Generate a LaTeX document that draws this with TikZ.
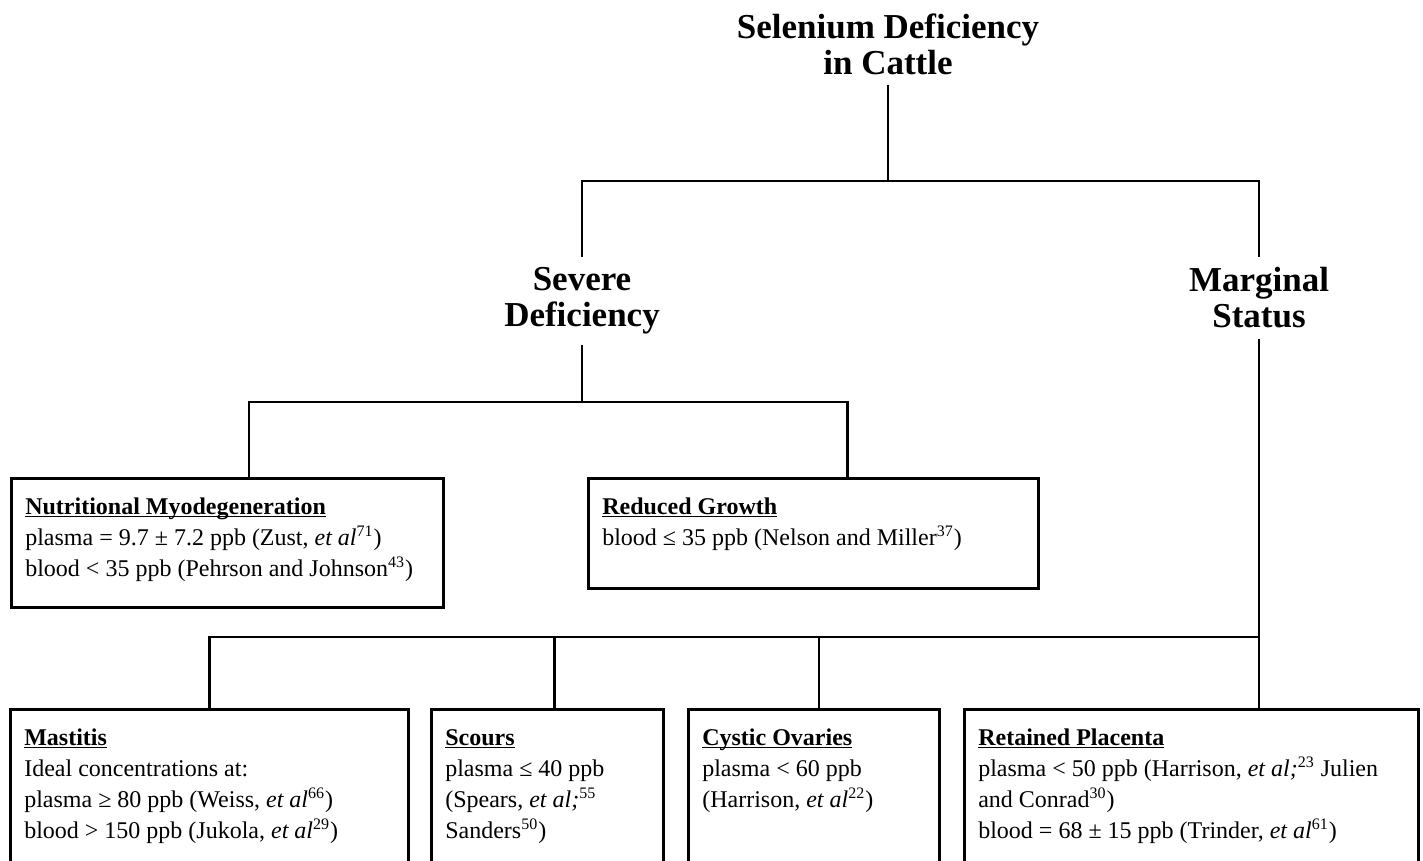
\documentclass[tikz,border=0pt]{standalone}
\usepackage{fontspec}
\setmainfont{Liberation Serif}
\usetikzlibrary{calc}
\tikzstyle{heading}=[
    font=\fontsize{17.5}{18}\selectfont\bfseries,
    align=center, inner sep=5pt
    ]
\tikzstyle{finding}=[
    draw, line width=1.3pt, anchor=north west,
    inner xsep=7pt, inner ysep=7pt,
    font=\fontsize{12}{15.5}\selectfont
    ]
\tikzstyle{branch}=[line width=1.3pt]
% width, height, lines
\newcommand{\findingText}[3]{\parbox[t][#2][t]{#1}{#3}}
\newcommand{\findingHead}[1]{\strut\underline{\smash{\textbf{#1}}}}
\newcommand{\etal}{\textit{et al}}

\begin{document}
\begin{tikzpicture}[
x=0.5pt,y=-0.5pt
]
\useasboundingbox (0,0) rectangle (1423,861);
\clip (0,0) rectangle (1423,861);
%levels
\coordinate (bar1) at (0,181);
\coordinate (bar2) at (0,402);
\coordinate (bar3) at (0,637);
%headings
\node[heading,anchor=south] (cattle) at (888,85) {Selenium Deficiency\\in Cattle};
\node[heading,anchor=north] (severe) at (582,257) {Severe\\Deficiency};
\node[heading,anchor=north] (marginal) at (1259,257) {Marginal\\Status};
%severe deficiency
\node[finding] (myo) at (10,477) {\findingText{202pt}{50.5pt}{%
\findingHead{Nutritional Myodegeneration}\\
plasma = 9.7 ± 7.2 ppb (Zust, \etal\textsuperscript{71})\\
blood < 35 ppb (Pehrson and Johnson\textsuperscript{43})}};
\node[finding] (growth) at (587,477) {\findingText{211pt}{41pt}{%
\findingHead{Reduced Growth}\\
blood ≤ 35 ppb (Nelson and Miller\textsuperscript{37})}};
%marginal status
\node[finding] (mastitis) at (9,708) {\findingText{185pt}{100pt}{%
\findingHead{Mastitis}\\
Ideal concentrations at:\\
plasma ≥ 80 ppb (Weiss, \etal\textsuperscript{66})\\
blood > 150 ppb (Jukola, \etal\textsuperscript{29})}};
\node[finding] (scours) at (430,708) {\findingText{102pt}{100pt}{%
\findingHead{Scours}\\
plasma ≤ 40 ppb\\
(Spears, \textit{et al;}\textsuperscript{55}\\
Sanders\textsuperscript{50})}};
\node[finding] (cystic) at (687,708) {\findingText{111.5pt}{100pt}{%
\findingHead{Cystic Ovaries}\\
plasma < 60 ppb\\
(Harrison, \etal\textsuperscript{22})}};
\node[finding] (placenta) at (963,708) {\findingText{213pt}{100pt}{%
\findingHead{Retained Placenta}\\
plasma < 50 ppb (Harrison, \textit{et al;}\textsuperscript{23} Julien\\
and Conrad\textsuperscript{30})\\
blood = 68 ± 15 ppb (Trinder, \etal\textsuperscript{61})}};
%connector feet
\coordinate (myoTop) at ($(myo.north west)!.55!(myo.north east)$);
\coordinate (growthTop) at ($(growth.north west)!.575!(growth.north east)$);
\coordinate (scoursTop) at ($(scours.north west)!.53!(scours.north east)$);
\coordinate (cysticTop) at ($(cystic.north west)!.52!(cystic.north east)$);
%tree
\draw[branch] (cattle.south) -- (cattle.south |- bar1) -| (severe.north);
\draw[branch] (cattle.south |- bar1) -| (marginal.north);
\draw[branch] (severe.south) -- (severe.south |- bar2);
\draw[branch] (myoTop) |- (severe.south |- bar2) -| (growthTop);
\draw[branch] (marginal.south) -- (placenta.north -| marginal.south);
\draw[branch] (mastitis.north) |- (marginal.south |- bar3);
\draw[branch] (scoursTop) -- (scoursTop |- bar3);
\draw[branch] (cysticTop) -- (cysticTop |- bar3);
\end{tikzpicture}
\end{document}
